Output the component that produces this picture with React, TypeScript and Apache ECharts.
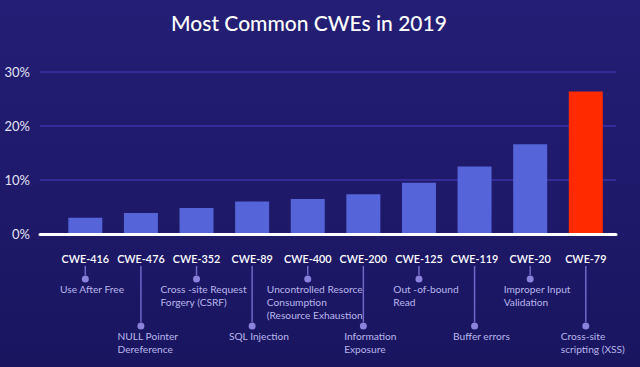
import React, { useEffect, useRef } from "react";
import * as echarts from "echarts";

const categories = ["CWE-416", "CWE-476", "CWE-352", "CWE-89", "CWE-400", "CWE-200", "CWE-125", "CWE-119", "CWE-20", "CWE-79"];
const descriptions = [
  ["Use After Free"],
  ["NULL Pointer", "Dereference"],
  ["Cross -site Request", "Forgery (CSRF)"],
  ["SQL Injection"],
  ["Uncontrolled Resorce", "Consumption", "(Resource Exhaustion"],
  ["Information", "Exposure"],
  ["Out -of-bound", "Read"],
  ["Buffer errors"],
  ["Improper Input", "Validation"],
  ["Cross-site", "scripting (XSS)"],
];
const values = [3.0, 3.9, 4.8, 6.0, 6.5, 7.35, 9.5, 12.5, 16.6, 26.4];
const yTicks = [0, 10, 20, 30];

const FONT = "Lato, 'Open Sans', sans-serif";

export default function App() {
  const ref = useRef<HTMLDivElement>(null);
  useEffect(() => {
    if (!ref.current) return;
    const chart = echarts.init(ref.current, null, { renderer: "svg" });
    const top = 72;
    const bottom = 133;
    chart.setOption({
      animation: false,
      backgroundColor: {
        type: "linear", x: 0, y: 0, x2: 0, y2: 1,
        colorStops: [
          { offset: 0, color: "#241e76" },
          { offset: 1, color: "#1a155f" },
        ],
      },
      title: {
        text: "Most Common CWEs in 2019",
        left: 304,
        textAlign: "center",
        top: 7,
        textStyle: { color: "#ffffff", fontSize: 21, fontWeight: 500, fontFamily: FONT },
      },
      grid: [
        { left: 40, right: 24, top, bottom },
        { left: 57.5, right: 26.4, top, bottom },
      ],
      xAxis: [
        {
          gridIndex: 0, type: "value", min: 0, max: 1,
          axisLine: { show: true, lineStyle: { color: "#ffffff", width: 3 } },
          axisTick: { show: false }, axisLabel: { show: false }, splitLine: { show: false },
          z: 5,
        },
        {
          gridIndex: 1, type: "category", data: categories,
          axisLine: { show: false }, axisTick: { show: false },
          axisLabel: {
            interval: 0,
            margin: 16,
            formatter: (v: string, i: number) => {
              const d = descriptions[i];
              const long = i % 2 === 1;
              return [
                `{cwe|${v}}`,
                long ? "{vl|}" : "{vs|}",
                "{dot|}",
                ...d.map((t) => `{desc|${t}}`),
              ].join("\n");
            },
            rich: {
              cwe: { color: "#ffffff", fontSize: 10.8, fontWeight: 600, fontFamily: FONT, lineHeight: 16, align: "center" },
              vs: { width: 1.5, height: 9, lineHeight: 9, backgroundColor: "#7068c8", align: "center" },
              vl: { width: 1.5, height: 56, lineHeight: 56, backgroundColor: "#7068c8", align: "center" },
              dot: { width: 7, height: 7, lineHeight: 8, borderRadius: 3.5, backgroundColor: "#8a82dc", align: "center" },
              desc: { color: "#b9b6ec", fontSize: 10.2, fontFamily: FONT, lineHeight: 12.6, align: "left", padding: [0, 0, 0, 14] },
            },
          },
        },
      ],
      yAxis: [
        {
          gridIndex: 0, type: "value", min: yTicks[0], max: yTicks[yTicks.length - 1], interval: 10,
          axisLine: { show: false }, axisTick: { show: false },
          axisLabel: { color: "#e4e3f5", fontSize: 13, fontFamily: FONT, margin: 10, formatter: "{value}%" },
          splitLine: { lineStyle: { color: "#3a33aa", width: 1.5 } },
        },
        {
          gridIndex: 1, type: "value", min: yTicks[0], max: yTicks[yTicks.length - 1], interval: 10,
          show: false, splitLine: { show: false },
        },
      ],
      series: [
        {
          type: "bar",
          xAxisIndex: 1,
          yAxisIndex: 1,
          barWidth: 34,
          z: 2,
          data: values.map((v, i) => ({
            value: v,
            itemStyle: { color: i === values.length - 1 ? "#ff2a00" : "#5565d9" },
          })),
        },
      ],
    });
    return () => chart.dispose();
  }, []);
  return <div ref={ref} style={{ width: 640, height: 367, position: "absolute", left: 0, top: 0 }} />;
}
